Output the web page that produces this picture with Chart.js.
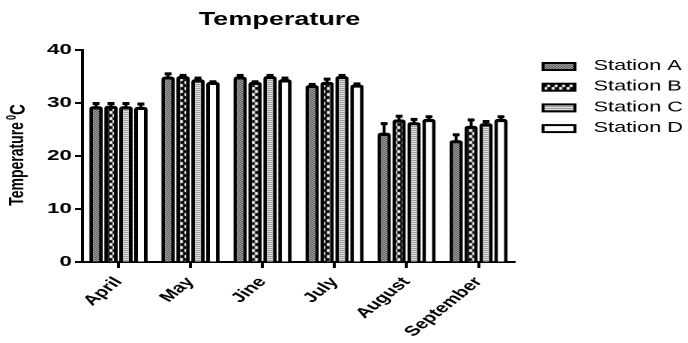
<!DOCTYPE html>
<html lang="en">
<head>
<meta charset="UTF-8">
<title>Temperature</title>
<script src="https://cdn.jsdelivr.net/npm/chart.js"></script>
<style>
    body { margin: 0; background: #ffffff; overflow: hidden; }
    /* the reference picture is stretched sideways, so the chart is drawn narrow and stretched back */
    #wrap { width: 459px; height: 343px; transform: scaleX(1.4989); transform-origin: 0 0; }
</style>
</head>
<body>
<div id="wrap"><canvas id="chart" width="459" height="343"></canvas></div>
<script>
const months = ['April', 'May', 'Jine', 'July', 'August', 'September'];
const stations = ['Station A', 'Station B', 'Station C', 'Station D'];
const stationA = [29.4, 35.0, 35.0, 33.4, 24.4, 23.0];
const stationB = [29.5, 35.1, 34.0, 34.0, 26.9, 25.7];
const stationC = [29.4, 34.5, 35.1, 35.1, 26.4, 26.2];
const stationD = [29.3, 34.0, 34.5, 33.5, 27.0, 27.0];
const errA = [0.6, 0.6, 0.3, 0.2, 1.8, 1.1];
const errB = [0.5, 0.2, 0.1, 0.6, 0.7, 1.2];
const errC = [0.6, 0.3, 0.2, 0.2, 0.6, 0.4];
const errD = [0.6, 0.1, 0.3, 0.2, 0.5, 0.5];
const yTicks = [0, 10, 20, 30, 40];

const FONT = '"Liberation Sans", Arial, sans-serif';

function makePattern(w, h, draw) {
    const c = document.createElement('canvas');
    c.width = w; c.height = h;
    const g = c.getContext('2d');
    g.fillStyle = '#fff';
    g.fillRect(0, 0, w, h);
    g.fillStyle = '#000';
    draw(g);
    return g.createPattern(c, 'repeat');
}

const fineChecks = makePattern(2, 2, g => { g.fillRect(0, 0, 1, 1); g.fillRect(1, 1, 1, 1); });
const bigChecks = makePattern(5, 6, g => {
    g.fillRect(0, 0, 5, 6);
    g.fillStyle = '#fff';
    g.fillRect(0, 0, 2, 3);
    g.fillRect(3, 3, 2, 3);
});
const stripes = makePattern(1, 2, g => { g.fillStyle = '#808080'; g.fillRect(0, 0, 1, 1); });

const fills = [fineChecks, bigChecks, stripes, '#ffffff'];
const values = [stationA, stationB, stationC, stationD];
const errors = [errA, errB, errC, errD];

const errorBars = {
    id: 'errorBars',
    afterDatasetsDraw(chart) {
        const ctx = chart.ctx;
        const y = chart.scales.y;
        ctx.save();
        ctx.fillStyle = '#000';
        chart.data.datasets.forEach((ds, i) => {
            chart.getDatasetMeta(i).data.forEach((bar, j) => {
                const top = y.getPixelForValue(ds.data[j] + errors[i][j]);
                ctx.fillRect(bar.x - 1, top, 2, bar.y - top + 2);
                ctx.fillRect(bar.x - 2.3, top - 1, 4.6, 3);
            });
        });
        ctx.restore();
    }
};

const extras = {
    id: 'extras',
    afterDraw(chart) {
        const ctx = chart.ctx;
        ctx.save();
        ctx.fillStyle = '#000';
        // title
        ctx.font = 'bold 18px ' + FONT;
        ctx.textAlign = 'center';
        ctx.textBaseline = 'alphabetic';
        ctx.fillText('Temperature', 186.5, 25);

        // y axis title with superscript
        ctx.translate(15.5, 155);
        ctx.rotate(-Math.PI / 2);
        ctx.textAlign = 'left';
        const f1 = 'bold 14px ' + FONT, f2 = 'bold 9px ' + FONT, f3 = 'bold 15px ' + FONT;
        ctx.font = f1; const w1 = ctx.measureText('Temperature').width + 2;
        ctx.font = f2; const w2 = ctx.measureText('0').width;
        ctx.font = f3; const w3 = ctx.measureText('C').width;
        let x = -(w1 + w2 + w3) / 2;
        ctx.font = f1; ctx.fillText('Temperature', x, 0); x += w1;
        ctx.font = f2; ctx.fillText('0', x, -5); x += w2;
        ctx.font = f3; ctx.fillText('C', x, 1);
        ctx.restore();

        // legend
        ctx.save();
        ctx.font = '14.5px ' + FONT;
        ctx.textBaseline = 'middle';
        chart.data.datasets.forEach((ds, i) => {
            const cy = 66 + i * 20.7;
            ctx.fillStyle = '#000';
            ctx.fillRect(361.3, cy - 4, 23.3, 9);
            ctx.fillStyle = ds.backgroundColor;
            ctx.fillRect(363.3, cy - 2, 19.3, 5);
            ctx.fillStyle = '#000';
            ctx.fillText(ds.label, 396, cy);
        });
        ctx.restore();
    }
};

const ctx = document.getElementById('chart').getContext('2d');
const chart = new Chart(ctx, {
    type: 'bar',
    data: {
        labels: months,
        datasets: stations.map((name, i) => ({
            label: name,
            data: values[i],
            backgroundColor: fills[i],
            borderColor: '#000',
            borderWidth: { left: 2.5, right: 2.5, top: 3.3, bottom: 0 },
            borderSkipped: 'bottom',
            borderRadius: { topLeft: 2.5, topRight: 2.5 },
            categoryPercentage: 0.83,
            barPercentage: 0.9
        }))
    },
    options: {
        responsive: false,
        devicePixelRatio: 2,
        animation: false,
        layout: { padding: { left: 0, right: 115.7, top: 50, bottom: 0 } },
        plugins: {
            legend: { display: false },
            title: { display: false },
            tooltip: { enabled: false }
        },
        scales: {
            x: {
                afterFit: s => { s.height = 81; },
                grid: { offset: false, drawOnChartArea: false, drawTicks: true, tickLength: 6, tickWidth: 2, tickColor: '#000' },
                border: { color: '#000', width: 2 },
                ticks: { color: '#000', font: { family: FONT, size: 14, weight: 'bold' }, minRotation: 50, maxRotation: 50, padding: 6 }
            },
            y: {
                min: 0,
                max: 40,
                afterFit: s => { s.width = 55; },
                afterBuildTicks: s => { s.ticks = yTicks.map(v => ({ value: v })); },
                grid: { drawOnChartArea: false, drawTicks: true, tickLength: 5, tickWidth: 2, tickColor: '#000' },
                border: { color: '#000', width: 2 },
                ticks: { color: '#000', font: { family: FONT, size: 15, weight: 'bold' }, padding: 2 }
            }
        }
    },
    plugins: [errorBars, extras]
});
</script>
</body>
</html>
